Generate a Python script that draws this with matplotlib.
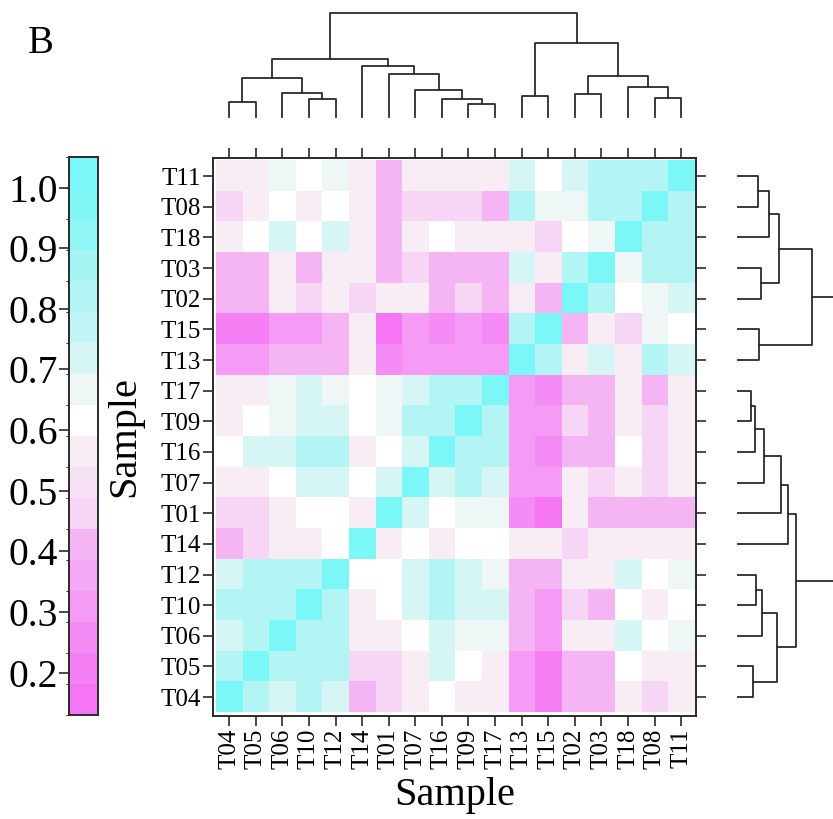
import matplotlib.pyplot as plt
import numpy as np
from matplotlib.colors import ListedColormap, BoundaryNorm
from matplotlib.cm import ScalarMappable

plt.rcParams['font.family'] = ['Liberation Serif', 'DejaVu Serif']

# ----------------------------------- data ----------------------------------- #

col_labels = ['T04', 'T05', 'T06', 'T10', 'T12', 'T14', 'T01', 'T07', 'T16',
              'T09', 'T17', 'T13', 'T15', 'T02', 'T03', 'T18', 'T08', 'T11']
row_labels = ['T11', 'T08', 'T18', 'T03', 'T02', 'T15', 'T13', 'T17', 'T09',
              'T16', 'T07', 'T01', 'T14', 'T12', 'T10', 'T06', 'T05', 'T04']

corr = [
    [.56, .56, .67, .62, .67, .56, .41, .56, .56, .56, .56, .72, .62, .72, .82, .82, .82, 1.0],
    [.46, .56, .62, .56, .62, .56, .41, .46, .46, .46, .41, .82, .67, .67, .82, .82, 1.0, .82],
    [.56, .62, .72, .62, .72, .56, .41, .56, .62, .56, .56, .56, .46, .62, .67, 1.0, .82, .82],
    [.41, .41, .56, .41, .56, .56, .41, .46, .41, .41, .41, .72, .56, .82, 1.0, .67, .82, .82],
    [.41, .41, .56, .46, .56, .46, .56, .56, .41, .46, .41, .56, .41, 1.0, .82, .62, .67, .72],
    [.21, .21, .30, .30, .41, .56, .16, .30, .25, .30, .25, .82, 1.0, .41, .56, .46, .67, .62],
    [.30, .30, .41, .41, .41, .56, .25, .30, .30, .30, .30, 1.0, .82, .56, .72, .56, .82, .72],
    [.56, .56, .67, .72, .67, .62, .67, .72, .82, .82, 1.0, .30, .25, .41, .41, .56, .41, .56],
    [.56, .62, .67, .72, .72, .62, .67, .82, .82, 1.0, .82, .30, .30, .46, .41, .56, .46, .56],
    [.62, .72, .72, .82, .82, .56, .62, .72, 1.0, .82, .82, .30, .25, .41, .41, .62, .46, .56],
    [.56, .56, .62, .72, .72, .62, .72, 1.0, .72, .82, .72, .30, .30, .56, .46, .56, .46, .56],
    [.46, .46, .56, .62, .62, .56, 1.0, .72, .62, .67, .67, .25, .16, .56, .41, .41, .41, .41],
    [.41, .46, .56, .56, .62, 1.0, .56, .62, .56, .62, .62, .56, .56, .46, .56, .56, .56, .56],
    [.72, .82, .82, .82, 1.0, .62, .62, .72, .82, .72, .67, .41, .41, .56, .56, .72, .62, .67],
    [.82, .82, .82, 1.0, .82, .56, .62, .72, .82, .72, .72, .41, .30, .46, .41, .62, .56, .62],
    [.72, .82, 1.0, .82, .82, .56, .56, .62, .72, .67, .67, .41, .30, .56, .56, .72, .62, .67],
    [.82, 1.0, .82, .82, .82, .46, .46, .56, .72, .62, .56, .30, .21, .41, .41, .62, .56, .56],
    [1.0, .82, .72, .82, .72, .41, .46, .56, .62, .56, .56, .30, .21, .41, .41, .56, .46, .56],
]

# cluster merges: (child a, child b, height); ints refer to earlier merges
col_merges = [
    ('T04', 'T05', 0.144), ('T10', 'T12', 0.173), ('T06', 1, 0.231),
    (0, 2, 0.378), ('T09', 'T17', 0.128), ('T16', 4, 0.170),
    ('T07', 5, 0.256), ('T01', 6, 0.413), ('T14', 7, 0.487),
    (3, 8, 0.561), ('T13', 'T15', 0.205), ('T02', 'T03', 0.221),
    ('T08', 'T11', 0.186), ('T18', 12, 0.292), (11, 13, 0.394),
    (10, 14, 0.715), (9, 15, 1.0),
]
row_merges = [
    ('T11', 'T08', 0.213), (0, 'T18', 0.328), ('T03', 'T02', 0.247),
    (1, 2, 0.436), ('T15', 'T13', 0.230), (3, 4, 0.780),
    ('T17', 'T09', 0.139), (6, 'T16', 0.181), (7, 'T07', 0.279),
    (8, 'T01', 0.453), (9, 'T14', 0.533), ('T12', 'T10', 0.192),
    (11, 'T06', 0.258), ('T05', 'T04', 0.164), (12, 13, 0.415),
    (10, 14, 0.617), (5, 15, 1.1),
]

cbar_ticks = [0.2, 0.3, 0.4, 0.5, 0.6, 0.7, 0.8, 0.9, 1.0]

# ---------------------------------- colours --------------------------------- #

bin_colors = ['#f575f5', '#f580f5', '#f58cf5', '#f59af5', '#f5a8f5', '#f5b5f5',
              '#f6d5f5', '#f7e2f5', '#f8ecf5', '#ffffff', '#eef6f6', '#d6f5f5',
              '#c2f5f5', '#b3f5f5', '#a5f5f5', '#90f6f6', '#82f7f7', '#7cf7f7']
cmap = ListedColormap(bin_colors)
norm = BoundaryNorm(np.linspace(0.13, 1.05, len(bin_colors) + 1), cmap.N)

line_c = '#2b2b2b'


def dendro_segments(order, merges):
    pos = {name: i + 0.5 for i, name in enumerate(order)}
    hgt = {name: 0.0 for name in order}
    segs = []
    for k, (a, b, h) in enumerate(merges):
        pa, pb = pos[a], pos[b]
        segs.append(([pa, pa, pb, pb], [hgt[a], h, h, hgt[b]]))
        pos[k] = (pa + pb) / 2
        hgt[k] = h
    return segs


fig = plt.figure(figsize=(8.33, 8.19), dpi=100)

# --------------------------------- heatmap ---------------------------------- #

ax = fig.add_axes([0.256, 0.126, 0.579, 0.681])
ax.imshow(np.array(corr), cmap=cmap, norm=norm, aspect='auto',
          extent=(0, 18, 18, 0), interpolation='nearest')
ax.set_xlim(-0.1, 18.04)
ax.set_ylim(18.11, -0.09)
ax.set_xticks(np.arange(18) + 0.5)
ax.set_xticklabels(col_labels, rotation=90, fontsize=18)
ax.set_yticks(np.arange(18) + 0.5)
ax.set_yticklabels(row_labels, fontsize=18)
ax.tick_params(top=True, right=True, length=7.5, width=1.2, color=line_c,
               pad=1.5)
for s in ax.spines.values():
    s.set_linewidth(1.4)
    s.set_color(line_c)
ax.set_xlabel('Sample', fontsize=29, labelpad=6)
ax.set_ylabel('Sample', fontsize=29, labelpad=12)

# ------------------------------- dendrograms -------------------------------- #

axt = fig.add_axes([0.256, 0.857, 0.579, 0.127])
for xs, ys in dendro_segments(col_labels, col_merges):
    axt.plot(xs, ys, color=line_c, lw=1.3, clip_on=False)
axt.set_xlim(-0.1, 18.04)
axt.set_ylim(0, 1.0)
axt.axis('off')

axr = fig.add_axes([0.885, 0.126, 0.115, 0.681])
for ys, xs in dendro_segments(row_labels, row_merges):
    axr.plot(xs, ys, color=line_c, lw=1.3)
axr.set_ylim(18.11, -0.09)
axr.set_xlim(0, 1.0)
axr.axis('off')

# --------------------------------- colorbar --------------------------------- #

cax = fig.add_axes([0.083, 0.127, 0.035, 0.681])
cb = fig.colorbar(ScalarMappable(norm=norm, cmap=cmap), cax=cax,
                  ticks=cbar_ticks, spacing='proportional')
cb.ax.yaxis.set_ticks_position('left')
cb.ax.set_yticklabels([f'{t:.1f}' for t in cbar_ticks], fontsize=28.5)
cb.ax.tick_params(length=7, width=1.2, color=line_c, pad=1)
cb.outline.set_linewidth(1.4)
cb.outline.set_edgecolor(line_c)

fig.text(0.033, 0.935, 'B', fontsize=28)

fig.savefig('out.png', dpi=100)
